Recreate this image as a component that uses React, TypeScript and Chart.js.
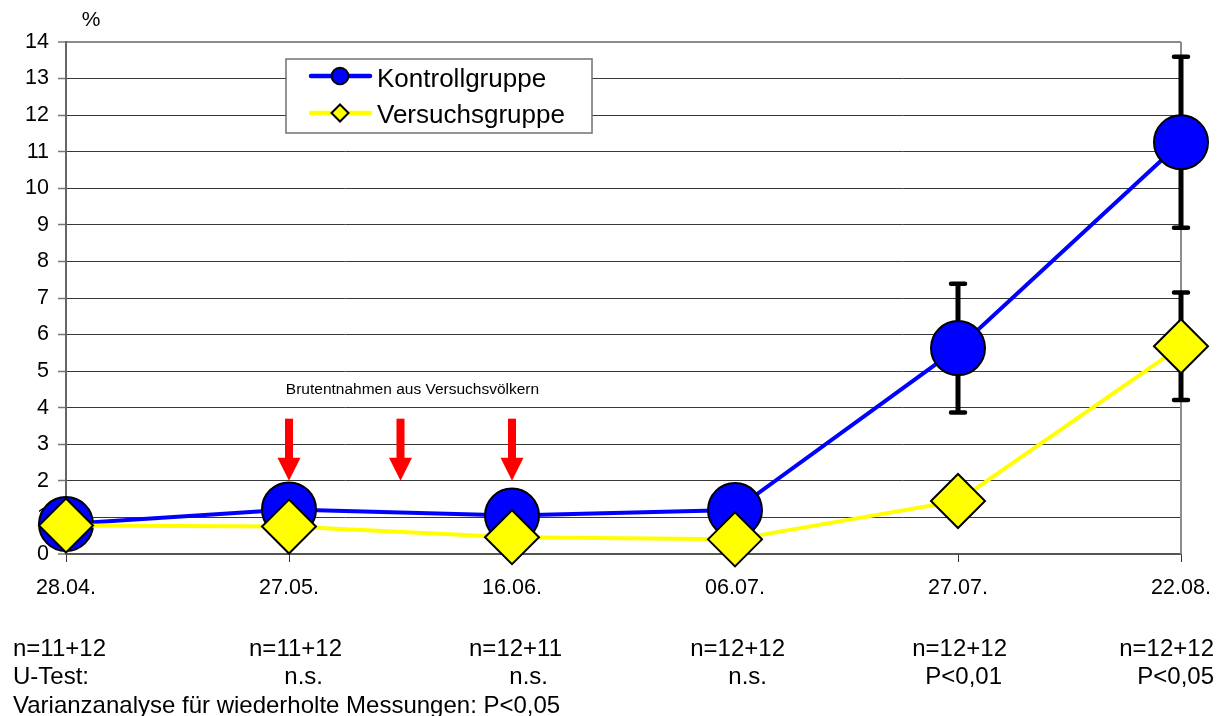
import React, { useEffect, useRef } from 'react';
import { Chart, registerables } from 'chart.js';

Chart.register(...registerables);

// ---- data ----
const categories = ['28.04.', '27.05.', '16.06.', '06.07.', '27.07.', '22.08.'];
const kontrollValues = [0.82, 1.22, 1.05, 1.2, 5.63, 11.26];
const kontrollErrors = [0, 0, 0, 0, 1.76, 2.34];
const versuchValues = [0.78, 0.75, 0.46, 0.4, 1.45, 5.68];
const versuchErrors = [0, 0, 0, 0, 0, 1.47];
const yMin = 0;
const yMax = 14;
const yStep = 1;
const seriesNames = ['Kontrollgruppe', 'Versuchsgruppe'];
const nLabels = ['n=11+12', 'n=11+12', 'n=12+11', 'n=12+12', 'n=12+12', 'n=12+12'];
const testLabels = ['U-Test:', 'n.s.', 'n.s.', 'n.s.', 'P<0,01', 'P<0,05'];
const anovaNote = 'Varianzanalyse für wiederholte Messungen: P<0,05';
const arrowNote = 'Brutentnahmen aus Versuchsvölkern';
const arrowAt = [1, 1.5, 2]; // category index positions of the brood-removal arrows
const arrowTop = 3.7;
const arrowTip = 2.0;
const unitLabel = '%';

const FONT = "'Liberation Sans', Arial, sans-serif";
const BLUE = '#0000ff';
const YELLOW = '#ffff00';

const overlayPlugin = {
  id: 'overlay',
  beforeDatasetsDraw(chart: any) {
    const { ctx, chartArea } = chart;
    const xs = chart.scales.x;
    const ys = chart.scales.y;
    ctx.save();
    // right frame line
    ctx.strokeStyle = '#8c8c8c';
    ctx.lineWidth = 2;
    ctx.beginPath();
    ctx.moveTo(chartArea.right, chartArea.top);
    ctx.lineTo(chartArea.right, chartArea.bottom);
    ctx.stroke();
    // error bars
    const drawErr = (vals: number[], errs: number[]) => {
      vals.forEach((v, i) => {
        const e = errs[i];
        if (!e) return;
        const px = xs.getPixelForValue(i);
        const yTop = ys.getPixelForValue(v + e);
        const yBot = ys.getPixelForValue(v - e);
        ctx.strokeStyle = '#000';
        ctx.lineWidth = 5;
        ctx.lineCap = 'butt';
        ctx.beginPath();
        ctx.moveTo(px, yTop);
        ctx.lineTo(px, yBot);
        ctx.stroke();
        ctx.lineWidth = 4.5;
        ctx.lineCap = 'round';
        ctx.beginPath();
        ctx.moveTo(px - 7, yTop);
        ctx.lineTo(px + 7, yTop);
        ctx.moveTo(px - 7, yBot);
        ctx.lineTo(px + 7, yBot);
        ctx.stroke();
      });
    };
    drawErr(kontrollValues, kontrollErrors);
    drawErr(versuchValues, versuchErrors);
    ctx.restore();
  },
  afterDraw(chart: any) {
    const { ctx, chartArea } = chart;
    const xs = chart.scales.x;
    const ys = chart.scales.y;
    ctx.save();

    // unit label
    ctx.fillStyle = '#000';
    ctx.font = `21px ${FONT}`;
    ctx.textAlign = 'center';
    ctx.textBaseline = 'middle';
    ctx.fillText(unitLabel, chartArea.left + 25, chartArea.top - 22);

    // red arrows
    ctx.fillStyle = '#ff0000';
    arrowAt.forEach((a) => {
      const px = xs.getPixelForValue(a);
      const t = ys.getPixelForValue(arrowTop);
      const tip = ys.getPixelForValue(arrowTip);
      const headStart = tip - 23;
      ctx.fillRect(px - 4, t, 8, headStart - t + 1);
      ctx.beginPath();
      ctx.moveTo(px - 11.5, headStart);
      ctx.lineTo(px + 11.5, headStart);
      ctx.lineTo(px, tip);
      ctx.closePath();
      ctx.fill();
    });
    ctx.fillStyle = '#000';
    ctx.font = `15.5px ${FONT}`;
    ctx.textAlign = 'center';
    ctx.textBaseline = 'middle';
    ctx.fillText(arrowNote, xs.getPixelForValue(arrowAt[1]) + 12, ys.getPixelForValue(4.5));

    // legend
    const lx = 286, ly = 59, lw = 306, lh = 74;
    ctx.fillStyle = '#fff';
    ctx.fillRect(lx, ly, lw, lh);
    ctx.strokeStyle = '#707070';
    ctx.lineWidth = 1.5;
    ctx.strokeRect(lx, ly, lw, lh);
    const rows = [
      { y: 76, color: BLUE, style: 'circle', label: seriesNames[0], base: 86.5 },
      { y: 113, color: YELLOW, style: 'diamond', label: seriesNames[1], base: 123.3 },
    ];
    rows.forEach((r) => {
      ctx.strokeStyle = r.color;
      ctx.lineWidth = 4.5;
      ctx.lineCap = 'round';
      ctx.beginPath();
      ctx.moveTo(311, r.y);
      ctx.lineTo(370, r.y);
      ctx.stroke();
      ctx.fillStyle = r.color;
      ctx.strokeStyle = '#000';
      ctx.lineWidth = 2;
      ctx.beginPath();
      if (r.style === 'circle') {
        ctx.arc(340, r.y, 8.3, 0, Math.PI * 2);
      } else {
        ctx.moveTo(340, r.y - 8.5);
        ctx.lineTo(348.5, r.y);
        ctx.lineTo(340, r.y + 8.5);
        ctx.lineTo(331.5, r.y);
        ctx.closePath();
      }
      ctx.fill();
      ctx.stroke();
      ctx.fillStyle = '#000';
      ctx.font = `26px ${FONT}`;
      ctx.textAlign = 'left';
      ctx.textBaseline = 'alphabetic';
      ctx.fillText(r.label, 377, r.base);
    });

    // bottom statistics text
    const nRight = [106, 342, 562, 785, 1007, 1214];
    const tRight = [91, 323, 548, 767, 1002, 1214];
    ctx.font = `24px ${FONT}`;
    ctx.fillStyle = '#000';
    ctx.textBaseline = 'alphabetic';
    nLabels.forEach((s, i) => {
      ctx.textAlign = i === 0 ? 'left' : 'right';
      ctx.fillText(s, i === 0 ? 13 : nRight[i], 656);
    });
    testLabels.forEach((s, i) => {
      ctx.textAlign = i === 0 ? 'left' : 'right';
      ctx.fillText(s, i === 0 ? 13 : tRight[i], 683.5);
    });
    ctx.textAlign = 'left';
    ctx.fillText(anovaNote, 13, 713);
    ctx.restore();
  },
};

export default function App() {
  const ref = useRef<HTMLCanvasElement | null>(null);
  useEffect(() => {
    if (!ref.current) return;
    const chart = new Chart(ref.current, {
      type: 'line',
      data: {
        labels: categories,
        datasets: [
          {
            label: seriesNames[0],
            data: kontrollValues,
            borderColor: BLUE,
            backgroundColor: BLUE,
            borderWidth: 4,
            tension: 0,
            pointStyle: 'circle',
            pointRadius: 27,
            pointHoverRadius: 27,
            pointBackgroundColor: BLUE,
            pointBorderColor: '#000',
            pointBorderWidth: 2,
            clip: false,
            order: 1,
          },
          {
            label: seriesNames[1],
            data: versuchValues,
            borderColor: YELLOW,
            backgroundColor: YELLOW,
            borderWidth: 4,
            tension: 0,
            pointStyle: 'rectRot',
            pointRadius: 27,
            pointHoverRadius: 27,
            pointBackgroundColor: YELLOW,
            pointBorderColor: '#000',
            pointBorderWidth: 2,
            clip: false,
            order: 0,
          },
        ],
      },
      options: {
        responsive: false,
        animation: false,
        devicePixelRatio: 1,
        layout: { padding: { top: 42, right: 43, left: 0, bottom: 0 } },
        plugins: {
          legend: { display: false },
          tooltip: { enabled: false },
          title: { display: false },
        },
        events: [],
        scales: {
          x: {
            type: 'category',
            offset: false,
            grid: {
              drawOnChartArea: false,
              drawTicks: true,
              tickLength: 8,
              tickColor: '#333',
              tickWidth: 1,
            },
            border: { display: true, color: '#555', width: 2 },
            ticks: {
              color: '#000',
              font: { family: FONT, size: 21.5 },
              padding: 13,
              maxRotation: 0,
              autoSkip: false,
            },
            afterFit: (scale: any) => {
              scale.height = 162;
            },
          },
          y: {
            min: yMin,
            max: yMax,
            grid: {
              drawOnChartArea: true,
              drawTicks: true,
              tickLength: 8,
              tickColor: '#777',
              tickWidth: 1.5,
              color: (c: any) =>
                c.tick && c.tick.value === yMax ? '#8c8c8c' : c.tick && c.tick.value === yMin ? '#555' : '#383838',
              lineWidth: (c: any) =>
                c.tick && (c.tick.value === yMax || c.tick.value === yMin) ? 2 : 1,
            },
            border: { display: true, color: '#666', width: 2 },
            ticks: {
              stepSize: yStep,
              color: '#000',
              font: { family: FONT, size: 21.5 },
              padding: 9,
            },
            afterFit: (scale: any) => {
              scale.width = 66;
            },
          },
        },
      },
      plugins: [overlayPlugin],
    });
    return () => chart.destroy();
  }, []);
  return (
    <div style={{ position: 'absolute', left: 0, top: 0, width: 1224, height: 716, background: '#fff' }}>
      <canvas ref={ref} width={1224} height={716} style={{ display: 'block' }} />
    </div>
  );
}
